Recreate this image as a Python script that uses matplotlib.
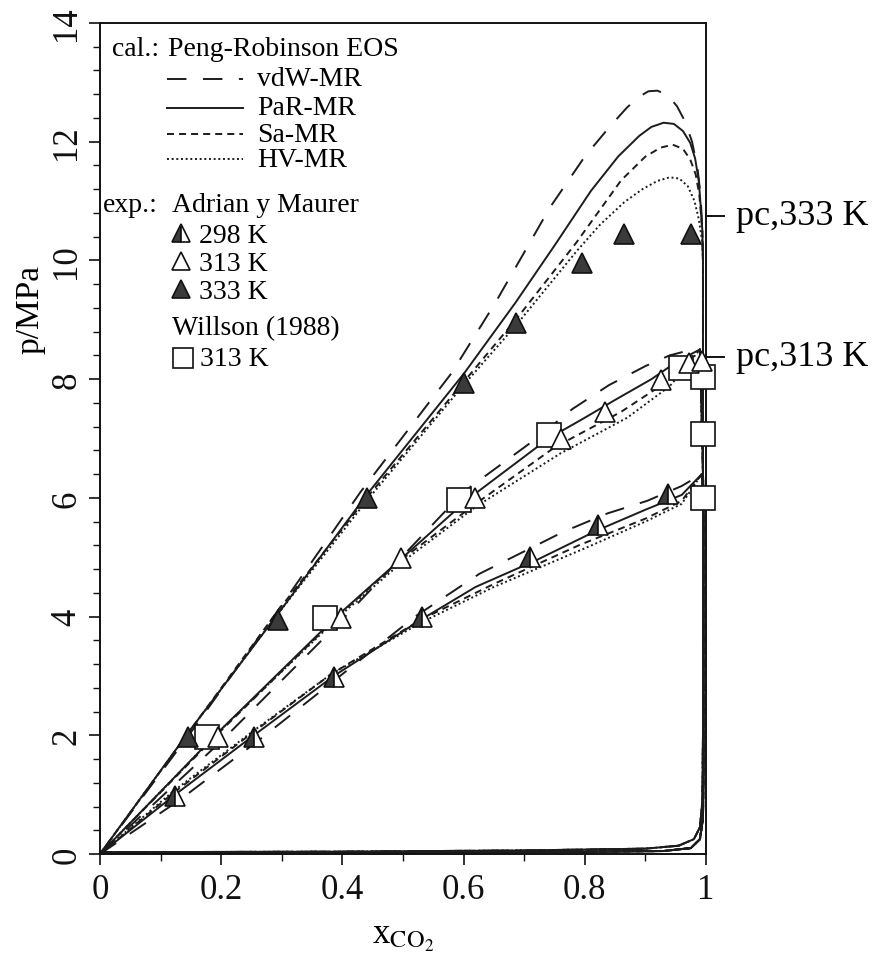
import matplotlib
matplotlib.use('Agg')
import matplotlib.pyplot as plt
from matplotlib.ticker import MultipleLocator, FuncFormatter

plt.rcParams['font.family'] = ['Liberation Serif', 'DejaVu Serif']
plt.rcParams['mathtext.fontset'] = 'stix'

# ---------------- data ----------------
# model curves, bubble branches  (x_CO2, p/MPa)
# 333 K
x333_vdw = [0, 0.15, 0.29, 0.43, 0.58, 0.652, 0.743, 0.80, 0.84, 0.87, 0.89, 0.905, 0.92, 0.937,
            0.952, 0.965, 0.977, 0.986, 0.991, 0.994]
p333_vdw = [0, 2.05, 4.05, 6.1, 8.1, 9.28, 10.9, 11.75, 12.24, 12.58, 12.76, 12.85, 12.86, 12.78,
            12.6, 12.35, 12.0, 11.55, 11.1, 10.5]
x333_par = [0, 0.146, 0.294, 0.44, 0.601, 0.685, 0.75, 0.81, 0.855, 0.89, 0.91, 0.93, 0.947,
            0.962, 0.974, 0.982, 0.988, 0.991, 0.994]
p333_par = [0, 2.05, 4.05, 6.05, 8.1, 9.28, 10.25, 11.17, 11.75, 12.1, 12.25, 12.32, 12.3,
            12.18, 11.98, 11.72, 11.35, 10.95, 10.5]
x333_sa = [0, 0.15, 0.29, 0.44, 0.6, 0.69, 0.786, 0.86, 0.9, 0.925, 0.945, 0.962, 0.974,
           0.983, 0.989, 0.994]
p333_sa = [0, 2.1, 4.05, 6.0, 7.95, 9.05, 10.3, 11.35, 11.75, 11.9, 11.95, 11.88, 11.7,
           11.45, 11.1, 10.5]
x333_hv = [0, 0.15, 0.29, 0.44, 0.6, 0.69, 0.786, 0.825, 0.865, 0.895, 0.92, 0.94, 0.956,
           0.97, 0.981, 0.988, 0.994]
p333_hv = [0, 2.1, 4.0, 5.95, 7.9, 8.95, 10.15, 10.6, 10.98, 11.2, 11.34, 11.4, 11.38,
           11.25, 11.0, 10.7, 10.3]
# 313 K
x313_vdw = [0, 0.2, 0.4, 0.6, 0.72, 0.78, 0.84, 0.90, 0.94, 0.97, 0.99]
p313_vdw = [0, 1.9, 3.95, 6.1, 7.0, 7.5, 7.9, 8.22, 8.4, 8.48, 8.5]
x313_par = [0, 0.1, 0.19, 0.39, 0.5, 0.61, 0.74, 0.80, 0.85, 0.91, 0.95, 0.975, 0.99]
p313_par = [0, 1.05, 2.0, 4.0, 5.0, 6.0, 7.0, 7.35, 7.65, 8.0, 8.28, 8.42, 8.5]
x313_sa = [0, 0.2, 0.4, 0.5, 0.62, 0.75, 0.86, 0.93, 0.96, 0.98, 0.99]
p313_sa = [0, 2.08, 4.08, 4.98, 5.9, 6.85, 7.45, 7.92, 8.2, 8.4, 8.5]
x313_hv = [0, 0.2, 0.4, 0.5, 0.62, 0.76, 0.87, 0.94, 0.965, 0.982, 0.99]
p313_hv = [0, 2.1, 4.05, 4.93, 5.85, 6.75, 7.35, 7.88, 8.18, 8.4, 8.5]
# 298 K
x298_vdw = [0, 0.13, 0.26, 0.39, 0.52, 0.626, 0.765, 0.838, 0.903, 0.96, 0.993]
p298_vdw = [0, 0.9, 1.9, 2.95, 4.0, 4.72, 5.43, 5.74, 5.95, 6.2, 6.4]
x298_par = [0, 0.124, 0.254, 0.386, 0.53, 0.62, 0.72, 0.82, 0.90, 0.96, 0.993]
p298_par = [0, 1.0, 2.0, 3.0, 3.95, 4.5, 4.95, 5.45, 5.8, 6.05, 6.4]
x298_sa = [0, 0.12, 0.25, 0.38, 0.53, 0.65, 0.79, 0.9, 0.96, 0.993]
p298_sa = [0, 1.02, 2.03, 3.02, 3.95, 4.55, 5.2, 5.65, 5.95, 6.4]
x298_hv = [0, 0.12, 0.25, 0.38, 0.53, 0.65, 0.8, 0.9, 0.96, 0.993]
p298_hv = [0, 1.05, 2.05, 3.02, 3.9, 4.5, 5.15, 5.6, 5.9, 6.4]

# dew branches (vapour side, x_CO2 close to 1)
dew_x_333 = [0.995, 0.995, 0.994, 0.99, 0.98, 0.955, 0.9, 0.7, 0.4, 0.0]
dew_p_333 = [10.0, 2.0, 0.9, 0.45, 0.25, 0.14, 0.09, 0.06, 0.04, 0.03]
dew_x_low = [0.996, 0.996, 0.995, 0.99, 0.975, 0.93, 0.7, 0.3, 0.0]
dew_p_low = [6.0, 1.5, 0.6, 0.25, 0.1, 0.05, 0.03, 0.02, 0.02]

# experimental data, Adrian y Maurer
x_exp_298 = [0.124, 0.254, 0.386, 0.531, 0.709, 0.821, 0.938]
p_exp_298 = [0.97, 1.97, 2.98, 4.0, 5.0, 5.55, 6.07]
x_exp_313 = [0.194, 0.398, 0.496, 0.619, 0.76, 0.833, 0.925, 0.972, 0.994]
p_exp_313 = [1.97, 3.98, 4.98, 6.0, 6.99, 7.44, 7.98, 8.28, 8.31]
x_exp_333 = [0.146, 0.294, 0.44, 0.601, 0.686, 0.795, 0.864, 0.975]
p_exp_333 = [1.97, 3.95, 5.99, 7.94, 8.95, 9.95, 10.45, 10.45]
# Willson (1988), 313 K
x_wil_313 = [0.177, 0.372, 0.592, 0.741, 0.959, 0.995, 0.995, 0.995]
p_wil_313 = [1.97, 3.98, 5.97, 7.06, 8.19, 8.03, 7.07, 5.99]

# critical pressures marked on the right
pc_values = [10.75, 8.38]
pc_labels = ['pc,333 K', 'pc,313 K']

model_names = ['vdW-MR', 'PaR-MR', 'Sa-MR', 'HV-MR']
x_ticks = [0, 0.2, 0.4, 0.6, 0.8, 1.0]
y_ticks = [0, 2, 4, 6, 8, 10, 12, 14]

# ---------------- styles ----------------
LC = '#1c1c1c'
DARK = '#3a3a3a'
LW = 1.4
styles = {
    'vdW-MR': (0, (10, 8.5)),
    'PaR-MR': '-',
    'Sa-MR': (0, (3.6, 2.6)),
    'HV-MR': (0, (1, 1.4)),
}

fig = plt.figure(figsize=(8.72, 9.54), dpi=100)
ax = fig.add_axes([100/872, 1-855/954, 606/872, 831/954])

curves = {
    '333': [(x333_vdw, p333_vdw), (x333_par, p333_par), (x333_sa, p333_sa), (x333_hv, p333_hv)],
    '313': [(x313_vdw, p313_vdw), (x313_par, p313_par), (x313_sa, p313_sa), (x313_hv, p313_hv)],
    '298': [(x298_vdw, p298_vdw), (x298_par, p298_par), (x298_sa, p298_sa), (x298_hv, p298_hv)],
}
for temp, lst in curves.items():
    dx, dp = (dew_x_333, dew_p_333) if temp == '333' else (dew_x_low, dew_p_low)
    for name, (xs, ps) in zip(model_names, lst):
        ax.plot(list(xs) + list(dx), list(ps) + list(dp), color=LC, lw=LW,
                ls=styles[name], zorder=2, solid_joinstyle='round')

mk = dict(ls='none', ms=15, mec='#111111', mew=1.2, clip_on=False, zorder=5)
ax.plot(x_wil_313, p_wil_313, marker='s', mfc='white', **{**mk, 'ms': 17})
ax.plot(x_exp_298, p_exp_298, marker='^', mfc=DARK, fillstyle='left',
        markerfacecoloralt='white', **mk)
ax.plot(x_exp_313, p_exp_313, marker='^', mfc='white', **mk)
ax.plot(x_exp_333, p_exp_333, marker='^', mfc=DARK, **mk)

# axes
ax.set_xlim(0, 1)
ax.set_ylim(0, 14)
for s in ax.spines.values():
    s.set_linewidth(1.4)
    s.set_color('#111111')
ax.set_xticks(x_ticks)
ax.set_yticks(y_ticks)
ax.xaxis.set_minor_locator(MultipleLocator(0.1))
ax.yaxis.set_minor_locator(MultipleLocator(0.4))
ax.xaxis.set_major_formatter(FuncFormatter(
    lambda v, _: '0' if abs(v) < 1e-9 else ('1' if abs(v-1) < 1e-9 else f'{v:.1f}')))
ax.tick_params(which='major', direction='out', length=8, width=1.2, labelsize=25,
               colors='#111111')
ax.tick_params(which='minor', direction='out', length=5, width=1.0, colors='#111111')
ax.tick_params(axis='x', pad=6)
ax.tick_params(axis='y', labelrotation=90, pad=4)
for lab in ax.get_yticklabels():
    lab.set_va('center')

ax.set_xlabel(r'x$_{\mathrm{CO_2}}$', fontsize=25, labelpad=10)
ax.set_ylabel('p/MPa', fontsize=24)
ax.yaxis.set_label_coords(-0.09, 0.656)

# critical pressure marks
yt = ax.get_yaxis_transform()
for pc, lab in zip(pc_values, pc_labels):
    ax.plot([1.0, 1.03], [pc, pc], color='#111111', lw=1.4, transform=yt, clip_on=False)
    ax.text(1.05, pc, lab, transform=yt, fontsize=26, va='center', ha='left')

# legend (hand-built)
ta = ax.transAxes
fs = 20
ax.text(0.02, 0.969, 'cal.:', transform=ta, fontsize=fs, va='center')
ax.text(0.112, 0.969, 'Peng-Robinson EOS', transform=ta, fontsize=fs, va='center')
leg_y = [0.933, 0.898, 0.866, 0.836]
for name, yy in zip(model_names, leg_y):
    ax.plot([0.11, 0.236], [yy, yy], transform=ta, color=LC, lw=LW, ls=styles[name])
    ax.text(0.259, yy, name, transform=ta, fontsize=fs, va='center')
ax.text(0.005, 0.782, 'exp.:', transform=ta, fontsize=fs, va='center')
ax.text(0.118, 0.782, 'Adrian y Maurer', transform=ta, fontsize=fs, va='center')
leg_m = dict(ls='none', ms=13, mec='#111111', mew=1.2, transform=ta)
ax.plot([0.134], [0.747], marker='^', mfc=DARK, fillstyle='left', markerfacecoloralt='white', **leg_m)
ax.text(0.163, 0.744, '298 K', transform=ta, fontsize=fs, va='center')
ax.plot([0.134], [0.713], marker='^', mfc='white', **leg_m)
ax.text(0.163, 0.710, '313 K', transform=ta, fontsize=fs, va='center')
ax.plot([0.134], [0.680], marker='^', mfc=DARK, **leg_m)
ax.text(0.163, 0.677, '333 K', transform=ta, fontsize=fs, va='center')
ax.text(0.119, 0.634, 'Willson (1988)', transform=ta, fontsize=fs, va='center')
ax.plot([0.137], [0.597], marker='s', mfc='white', **{**leg_m, 'ms': 15})
ax.text(0.165, 0.596, '313 K', transform=ta, fontsize=fs, va='center')

fig.savefig('out.png', dpi=100)
